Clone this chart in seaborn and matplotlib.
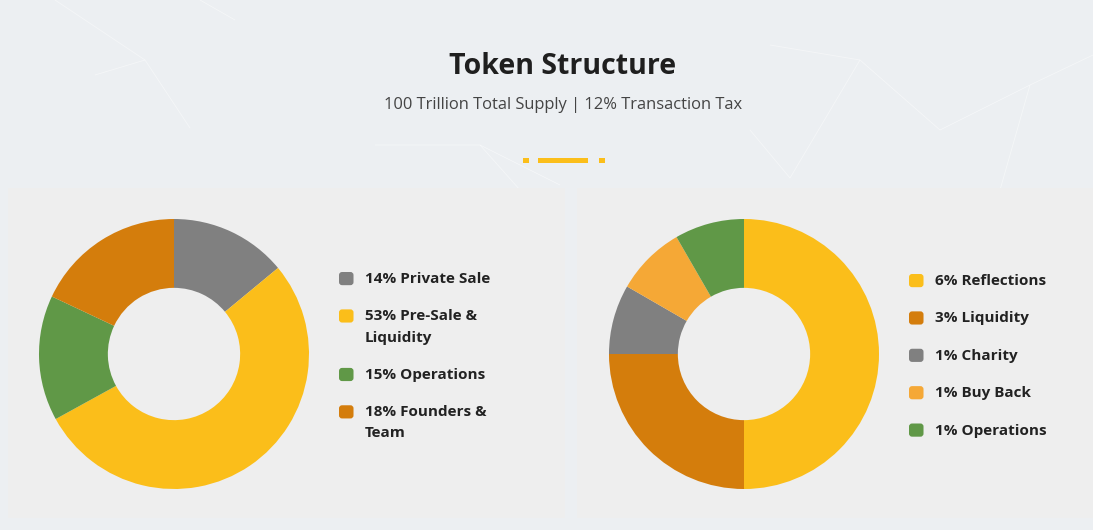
import matplotlib.pyplot as plt
import seaborn as sns
from matplotlib.patches import Rectangle, FancyBboxPatch
from matplotlib.lines import Line2D
from matplotlib.legend_handler import HandlerPatch

# data
supply_labels = ['14% Private Sale', '53% Pre-Sale &\nLiquidity', '15% Operations', '18% Founders &\nTeam']
supply_values = [14, 53, 15, 18]
supply_colors = ['#808080', '#fbbe1a', '#609847', '#d47d0c']

tax_labels = ['6% Reflections', '3% Liquidity', '1% Charity', '1% Buy Back', '1% Operations']
tax_values = [6, 3, 1, 1, 1]
tax_colors = ['#fbbe1a', '#d47d0c', '#808080', '#f5a836', '#609847']

title = 'Token Structure'
subtitle = '100 Trillion Total Supply | 12% Transaction Tax'

sns.set_theme(style='white')
plt.rcParams['font.family'] = ['Open Sans', 'DejaVu Sans']

W, H = 1093, 530
fig = plt.figure(figsize=(W / 100, H / 100), dpi=100)
fig.patch.set_facecolor('#eceff2')


def fx(x):
    return x / W


def fy(y):
    return 1 - y / H


# faint background network decoration
for pts in [[(55, 0), (145, 60), (190, 128)], [(145, 60), (95, 75)], [(200, 0), (235, 20)],
            [(375, 145), (480, 145), (560, 185)], [(480, 145), (520, 190)],
            [(750, 130), (790, 178), (860, 60), (940, 130)], [(770, 45), (860, 60)],
            [(1093, 55), (1030, 85), (940, 130)], [(1030, 85), (1000, 190)]]:
    xs = [fx(p[0]) for p in pts]
    ys = [fy(p[1]) for p in pts]
    fig.lines.append(Line2D(xs, ys, transform=fig.transFigure, color='white', lw=0.6,
                            alpha=0.45, zorder=-2))

# panels
fig.patches.append(Rectangle((fx(8), fy(518)), fx(557), 330 / H, transform=fig.transFigure,
                             facecolor='#eeeeee', edgecolor='none', zorder=-1))
fig.patches.append(Rectangle((fx(577), fy(518)), fx(516), 330 / H, transform=fig.transFigure,
                             facecolor='#eeeeee', edgecolor='none', zorder=-1))

# header
fig.text(fx(563), fy(66), title, ha='center', va='center', fontsize=20.5, fontweight='bold', color='#1f1f1f')
fig.text(fx(563.5), fy(105), subtitle, ha='center', va='center', fontsize=11.9, color='#444444')
for x0, x1 in [(523, 529), (538, 588), (599, 605)]:
    fig.patches.append(Rectangle((fx(x0), fy(162.5)), fx(x1 - x0), 5 / H, transform=fig.transFigure,
                                 facecolor='#fbbe1a', edgecolor='none'))


def rounded(legend, orig_handle, xdescent, ydescent, width, height, fontsize):
    return FancyBboxPatch((-xdescent, -ydescent), width, height,
                          boxstyle='round,pad=0,rounding_size=2.2')


def donut(cx, cy, values, colors, labels, lx, ly):
    r = 135
    ax = fig.add_axes([fx(cx - r), fy(cy + r), 2 * r / W, 2 * r / H])
    wedges, _ = ax.pie(values, colors=colors, startangle=90, counterclock=False,
                       wedgeprops=dict(width=0.51, edgecolor='none'))
    ax.set_xlim(-1, 1)
    ax.set_ylim(-1, 1)
    leg = fig.legend(wedges, labels, loc='upper left', bbox_to_anchor=(fx(lx), fy(ly)),
                     frameon=False, borderpad=0, borderaxespad=0, fontsize=11,
                     handlelength=0.95, handleheight=0.95, handletextpad=0.75,
                     labelspacing=1.53, handler_map={wedges[0].__class__: HandlerPatch(patch_func=rounded)})
    for t in leg.get_texts():
        t.set_fontweight('bold')
        t.set_color('#222222')
        t.set_linespacing(1.65)
    for col in leg._legend_handle_box.get_children():
        for row in col.get_children():
            row.align = 'top'
    return ax


donut(174, 354, supply_values, supply_colors, supply_labels, 339, 272)
donut(744, 354, tax_values, tax_colors, tax_labels, 909, 274)

plt.savefig('out.png', dpi=100, facecolor=fig.get_facecolor())
plt.close()
